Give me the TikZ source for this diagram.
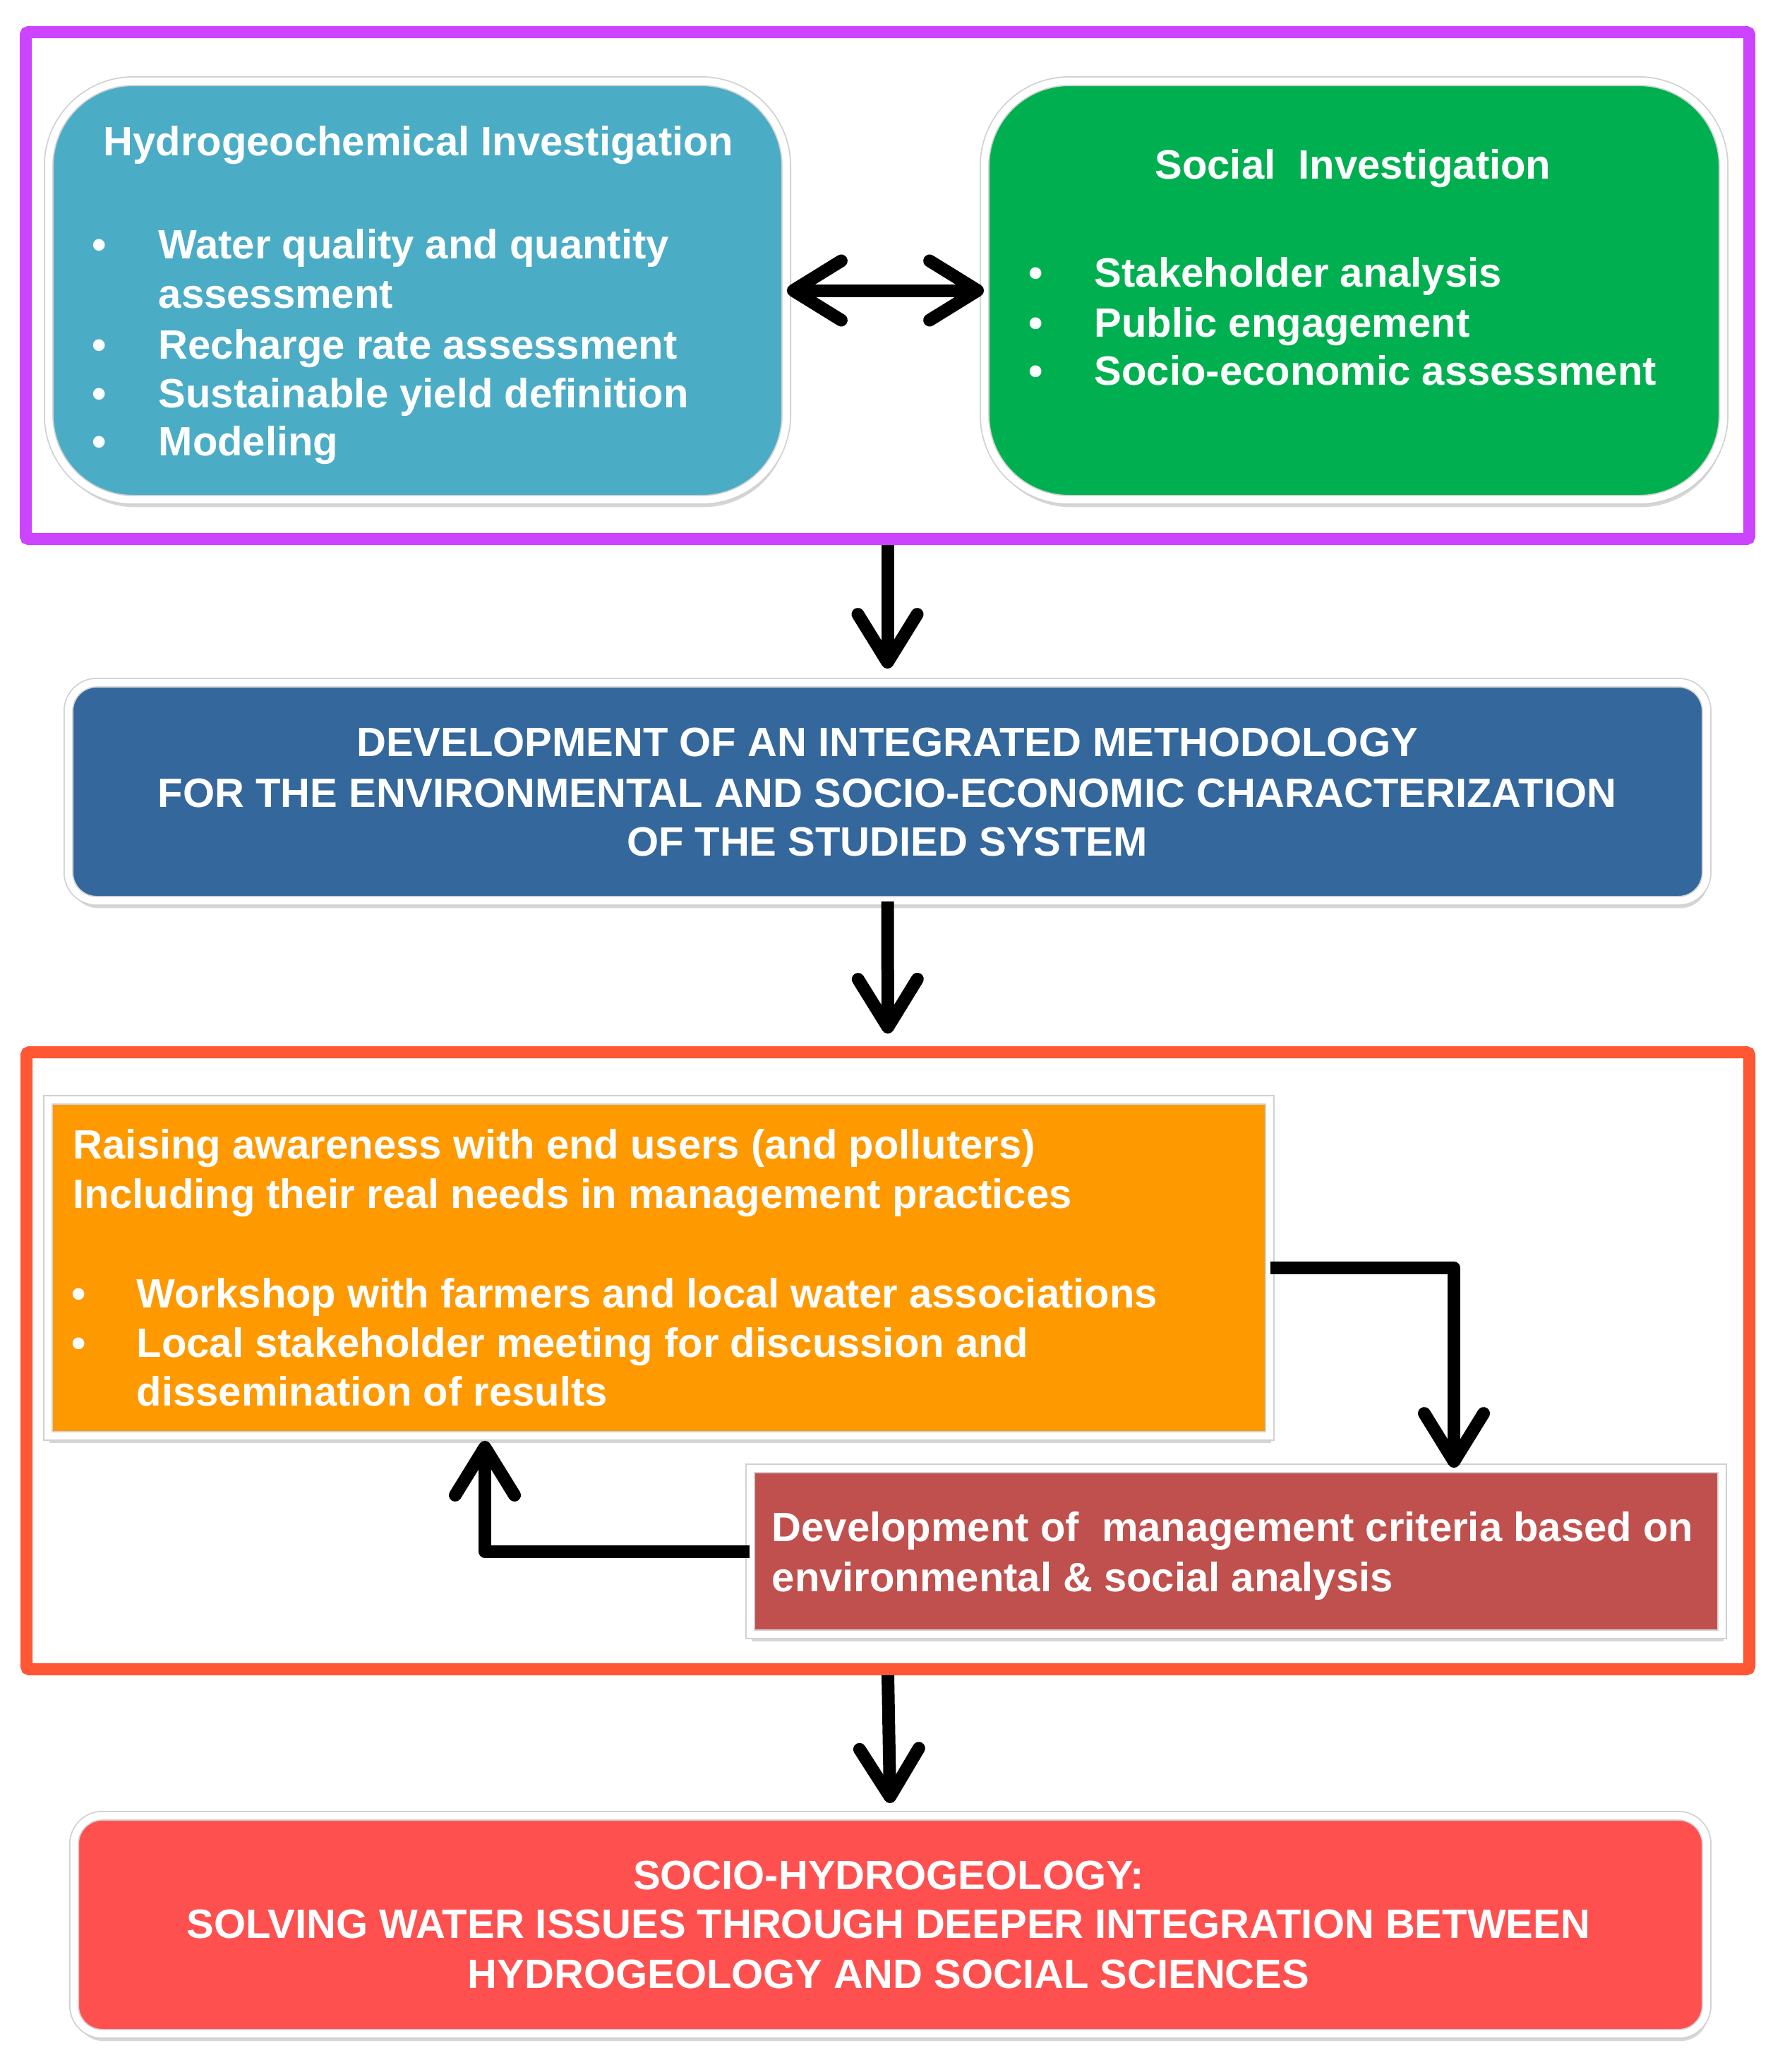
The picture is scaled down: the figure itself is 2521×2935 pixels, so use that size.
\documentclass[tikz,border=0pt]{standalone}
\usepackage{fontspec}
\setmainfont{Liberation Sans}
\usetikzlibrary{arrows.meta,shadows}
\definecolor{cPurple}{RGB}{204,68,255}
\definecolor{cBlue}{RGB}{75,172,198}
\definecolor{cGreen}{RGB}{0,176,80}
\definecolor{cDev}{RGB}{52,103,155}
\definecolor{cOframe}{RGB}{255,87,51}
\definecolor{cOrange}{RGB}{255,153,0}
\definecolor{cBrown}{RGB}{192,80,77}
\definecolor{cRed}{RGB}{255,80,80}
\begin{document}
\begin{tikzpicture}[x=0.25pt,y=-0.25pt,
  box/.style={draw=black!18, line width=0.45pt, double=white, double distance=2.6pt, inner sep=0pt,
    drop shadow={shadow xshift=0.6pt, shadow yshift=-2.6pt, opacity=0.35, fill=black!45}},
  frame/.style={draw, line width=4.25pt, inner sep=0pt, rounded corners=1pt},
  txt/.style={font=\fontsize{14.5pt}{17.5pt}\selectfont\bfseries, text=white, inner sep=0pt},
  arr/.style={line width=4.5pt, line join=round, -{Straight Barb[length=17pt,width=21pt,round]}},
  darr/.style={line width=4.5pt, {Straight Barb[length=17pt,width=21pt,round]}-{Straight Barb[length=17pt,width=21pt,round]}},
]
\fill[white] (0,0) rectangle (2521,2935);
\useasboundingbox (0,0) rectangle (2521,2935);

% frames
\node[frame, draw=cPurple, minimum width=2442*0.25pt, minimum height=718*0.25pt] (pframe) at (1257.5,404.5) {};
\node[frame, draw=cOframe, minimum width=2441*0.25pt, minimum height=874*0.25pt] (oframe) at (1258,1927.5) {};

% boxes
\node[box, fill=cBlue, rounded corners=30pt, minimum width=1045*0.25pt, minimum height=593*0.25pt] (hydro) at (591.5,411.5) {};
\node[box, fill=cGreen, rounded corners=30pt, minimum width=1047*0.25pt, minimum height=593*0.25pt] (social) at (1918.5,411.5) {};
\node[box, fill=cDev, rounded corners=10pt, minimum width=2321*0.25pt, minimum height=309*0.25pt] (dev) at (1257.5,1121.5) {};
\node[box, fill=cOrange, minimum width=1731*0.25pt, minimum height=476*0.25pt] (orange) at (933.5,1796) {};
\node[box, fill=cBrown, minimum width=1377*0.25pt, minimum height=235*0.25pt] (redb) at (1751.5,2197.5) {};
\node[box, fill=cRed, rounded corners=10pt, minimum width=2313*0.25pt, minimum height=309*0.25pt] (final) at (1261.5,2726.5) {};

% hydro text
\node[txt, anchor=base] (hT) at (593,220) {Hydrogeochemical Investigation};
\node[txt, anchor=base] (hb1) at (141,366) {\textbullet};
\node[txt, anchor=base west] (h1) at (224,366) {Water quality and quantity};
\node[txt, anchor=base west] (h1b) at (224,436) {assessment};
\node[txt, anchor=base] (hb2) at (141,508) {\textbullet};
\node[txt, anchor=base west] (h2) at (224,508) {Recharge rate assessment};
\node[txt, anchor=base] (hb3) at (141,577) {\textbullet};
\node[txt, anchor=base west] (h3) at (224,577) {Sustainable yield definition};
\node[txt, anchor=base] (hb4) at (141,645) {\textbullet};
\node[txt, anchor=base west] (h4) at (224,645) {Modeling};

% social text
\node[txt, anchor=base] (sT) at (1917,253) {Social\ \ Investigation};
\node[txt, anchor=base] (sb1) at (1468,406) {\textbullet};
\node[txt, anchor=base west] (s1) at (1550,406) {Stakeholder analysis};
\node[txt, anchor=base] (sb2) at (1468,477) {\textbullet};
\node[txt, anchor=base west] (s2) at (1550,477) {Public engagement};
\node[txt, anchor=base] (sb3) at (1468,545) {\textbullet};
\node[txt, anchor=base west] (s3) at (1550,545) {Socio-economic assessment};

% dev text
\node[txt, anchor=base] (d1) at (1257,1071) {DEVELOPMENT OF AN INTEGRATED METHODOLOGY};
\node[txt, anchor=base] (d2) at (1257,1143) {FOR THE ENVIRONMENTAL AND SOCIO-ECONOMIC CHARACTERIZATION};
\node[txt, anchor=base] (d3) at (1257,1212) {OF THE STUDIED SYSTEM};

% orange text
\node[txt, anchor=base west] (o1) at (103,1641) {Raising awareness with end users (and polluters)};
\node[txt, anchor=base west] (o2) at (103,1711) {Including their real needs in management practices};
\node[txt, anchor=base] (ob1) at (112,1852) {\textbullet};
\node[txt, anchor=base west] (o3) at (193,1852) {Workshop with farmers and local water associations};
\node[txt, anchor=base] (ob2) at (112,1922) {\textbullet};
\node[txt, anchor=base west] (o4) at (193,1922) {Local stakeholder meeting for discussion and};
\node[txt, anchor=base west] (o5) at (193,1991) {dissemination of results};

% brown text
\node[txt, anchor=base west] (r1) at (1093,2183) {Development of\ \ management criteria based on};
\node[txt, anchor=base west] (r2) at (1093,2254) {environmental \& social analysis};

% final text
\node[txt, anchor=base] (f1) at (1259,2676) {SOCIO-HYDROGEOLOGY:};
\node[txt, anchor=base] (f2) at (1259,2745) {SOLVING WATER ISSUES THROUGH DEEPER INTEGRATION BETWEEN};
\node[txt, anchor=base] (f3) at (1259,2816) {HYDROGEOLOGY AND SOCIAL SCIENCES};

% connectors
\draw[darr] (hydro.east) -- (social.west);
\draw[arr, shorten >=4.75pt] (pframe.south) -- (dev.north);
\draw[arr, shorten >=4.5pt] (dev.south) -- (oframe.north);
\draw[arr, shorten >=4.25pt] (oframe.south) -- (final.north);
\draw[arr] (orange.east) -| ([xshift=77.125pt]redb.north);
\draw[arr, shorten >=1.5pt] (redb.west) -| ([xshift=-61.625pt]orange.south);
\end{tikzpicture}
\end{document}
